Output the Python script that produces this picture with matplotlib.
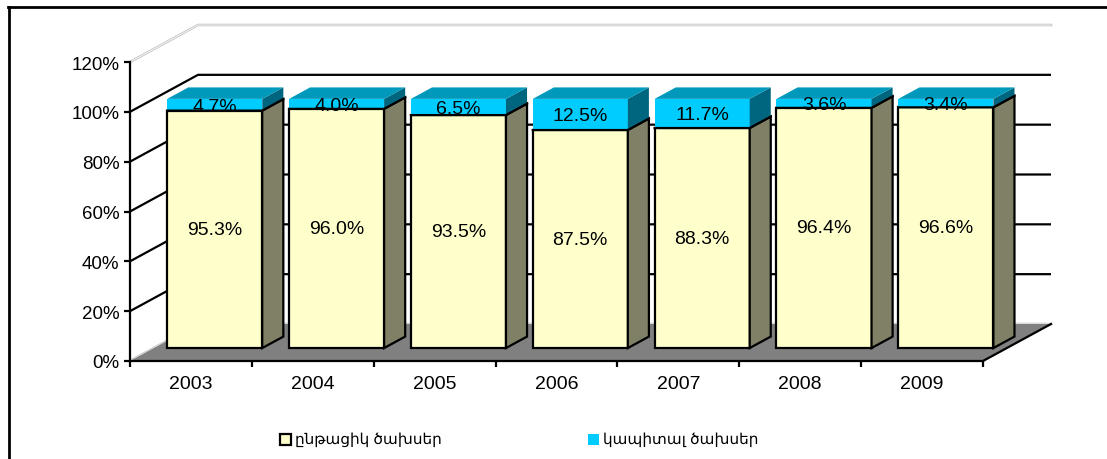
import matplotlib
matplotlib.use("Agg")
import matplotlib.pyplot as plt
from matplotlib.patches import Polygon, Rectangle

years = ["2003", "2004", "2005", "2006", "2007", "2008", "2009"]
current = [95.3, 96.0, 93.5, 87.5, 88.3, 96.4, 96.6]
capital = [4.7, 4.0, 6.5, 12.5, 11.7, 3.6, 3.4]
legend_labels = ["ընթացիկ ծախսեր", "կապիտալ ծախսեր"]
yticks = [0, 20, 40, 60, 80, 100, 120]

YELLOW = "#FFFFCC"
OLIVE = "#808066"
CYAN = "#00CCFF"
CYAN_TOP = "#0099BB"
CYAN_SIDE = "#006680"
FLOOR = "#808080"
FONT = ["Liberation Sans", "DejaVu Sans"]

W, H = 1107, 460
fig = plt.figure(figsize=(W / 100, H / 100), dpi=100)
fig.patch.set_facecolor("white")
ax = fig.add_axes([130 / W, 98 / H, 853 / W, 299 / H])
n = len(years)
ax.set_xlim(0, n)
ax.set_ylim(0, 120)
ax.set_facecolor("none")

# depth offset (full depth) in data units: 68 px right, 37 px up
DX = 68 / (853 / n)
DY = 37 / (299 / 120)


def P(x, y, d):
    return (x + d * DX, y + d * DY)


# back wall gridlines and left wall lines
for v in yticks:
    xs = [P(0, v, 0)[0], P(0, v, 1)[0], P(n, v, 1)[0]]
    ys = [P(0, v, 0)[1], P(0, v, 1)[1], P(n, v, 1)[1]]
    if v in (0, 120):
        ax.plot(xs, ys, color="#c0c0c0", lw=1.8, clip_on=False, zorder=1)
        ax.plot(xs, ys, color="white", lw=0.6, clip_on=False, zorder=1)
    else:
        ax.plot(xs, ys, color="black", lw=1.6, clip_on=False, zorder=1,
                solid_capstyle="butt")

# floor
floor = Polygon([P(0, 0, 0), P(n, 0, 0), P(n, 0, 1), P(0, 0, 1)],
                closed=True, facecolor=FLOOR, edgecolor="none",
                clip_on=False, zorder=2)
ax.add_patch(floor)
ax.plot(*zip(P(n, 0, 0), P(n, 0, 1)), color="black", lw=1.6,
        clip_on=False, zorder=2.5)

# bars
half = 0.39
d0, d1 = 0.35, 0.66
for i in range(n):
    a = current[i]
    t = a + capital[i]
    x0, x1 = i + 0.5 - half, i + 0.5 + half
    faces = [
        ([P(x0, 0, d0), P(x1, 0, d0), P(x1, a, d0), P(x0, a, d0)], YELLOW, "black"),
        ([P(x1, 0, d0), P(x1, 0, d1), P(x1, a, d1), P(x1, a, d0)], OLIVE, "black"),
        ([P(x0, a, d0), P(x1, a, d0), P(x1, t, d0), P(x0, t, d0)], CYAN, "none"),
        ([P(x1, a, d0), P(x1, a, d1), P(x1, t, d1), P(x1, t, d0)], CYAN_SIDE, "none"),
        ([P(x0, t, d0), P(x1, t, d0), P(x1, t, d1), P(x0, t, d1)], CYAN_TOP, "none"),
    ]
    for pts, fc, ec in faces:
        ax.add_patch(Polygon(pts, closed=True, facecolor=fc, edgecolor=ec,
                             lw=1.6, joinstyle="miter", clip_on=False, zorder=3))
    # redraw yellow top edge over cyan
    ax.plot(*zip(P(x0, a, d0), P(x1, a, d0), P(x1, a, d1)), color="black",
            lw=1.6, clip_on=False, zorder=3.1)
    cx = (x0 + x1) / 2
    ax.text(*P(cx, a / 2, d0), f"{a:.1f}%", ha="center", va="center",
            fontsize=14, family=FONT, zorder=5)
    ax.text(*P(cx, a + capital[i] / 2 - 0.6, d0), f"{capital[i]:.1f}%",
            ha="center", va="center", fontsize=14, family=FONT, zorder=5)

# axes
for s in ["top", "right"]:
    ax.spines[s].set_visible(False)
for s in ["left", "bottom"]:
    ax.spines[s].set_linewidth(1.6)
    ax.spines[s].set_zorder(4)
ax.set_yticks(yticks)
ax.set_yticklabels([f"{v}%" for v in yticks], family=FONT, fontsize=13.5)
ax.tick_params(axis="y", direction="out", length=4.5, width=1.6, pad=3)
ax.set_xticks(range(n + 1))
ax.set_xticklabels([])
ax.set_xticks([i + 0.5 for i in range(n)], minor=True)
ax.set_xticklabels(years, minor=True, family=FONT, fontsize=14)
ax.tick_params(axis="x", which="major", direction="out", length=4.5, width=1.6)
ax.tick_params(axis="x", which="minor", length=0, pad=10)

# legend
leg_items = [(280, YELLOW, "black"), (588, CYAN, "none")]
for (lx, fc, ec), lab in zip(leg_items, legend_labels):
    fig.patches.append(Rectangle((lx / W, 1 - 446 / H), 11 / W, 11 / H,
                                 transform=fig.transFigure, facecolor=fc,
                                 edgecolor=ec, lw=1.6))
    fig.text((lx + 15) / W, 1 - 440 / H, lab, ha="left", va="center",
             fontsize=11, family=FONT)

# outer border
fig.add_artist(plt.Line2D([8 / W, 1], [1 - 7.5 / H, 1 - 7.5 / H],
                          color="black", lw=2, transform=fig.transFigure))
fig.add_artist(plt.Line2D([8.5 / W, 8.5 / W], [0, 1 - 7.5 / H],
                          color="black", lw=2, transform=fig.transFigure))

fig.savefig("out.png", dpi=100)
